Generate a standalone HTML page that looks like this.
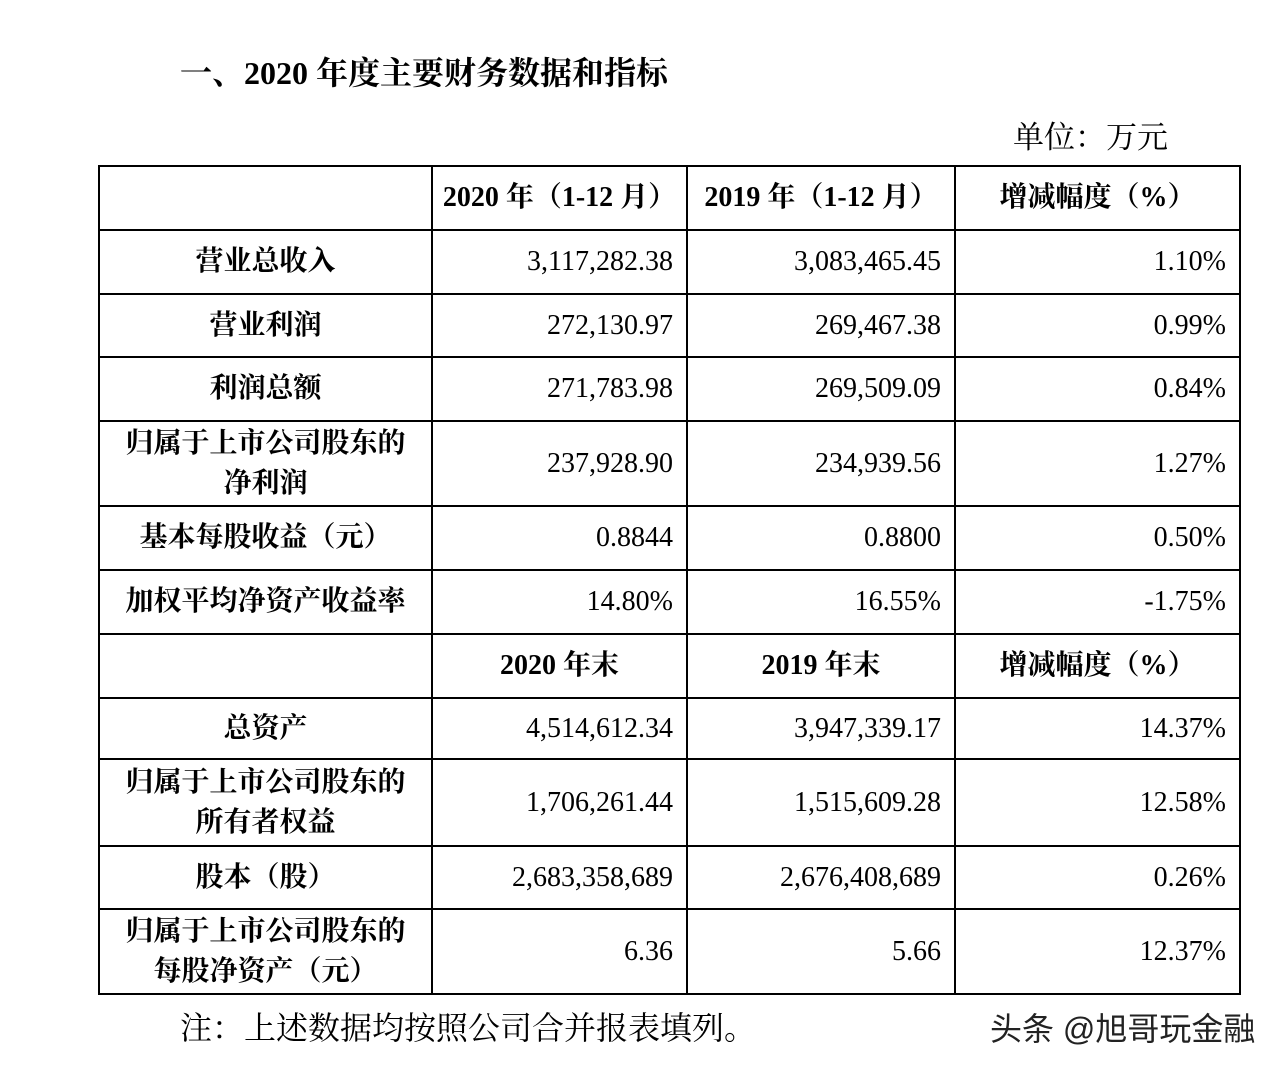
<!DOCTYPE html>
<html><head><meta charset="utf-8"><style>
html,body{margin:0;padding:0;background:#fff;}
body{width:1286px;height:1072px;position:relative;overflow:hidden;font-family:"Liberation Serif","Noto Serif CJK SC",serif;color:#000;}
.t{position:absolute;white-space:nowrap;}
table{position:absolute;left:98px;top:165px;border-collapse:collapse;table-layout:fixed;}
td{border:2px solid #000;font-size:28px;padding:0 12px;line-height:40px;}
td.l{text-align:center;font-weight:bold;padding:0 4px;}
td.r{text-align:right;padding-right:13px;}
td.h{text-align:center;font-weight:bold;padding:0 4px;}
</style></head><body>
<div class="t" style="left:180px;top:48px;font-size:32px;font-weight:bold;">一、2020 年度主要财务数据和指标</div>
<div class="t" style="left:1013px;top:112px;font-size:31px;">单位：万元</div>
<table>
<colgroup><col style="width:333px"><col style="width:255px"><col style="width:268px"><col style="width:285px"></colgroup>
<tr style="height:64px"><td></td><td class="h">2020 年（1-12 月）</td><td class="h">2019 年（1-12 月）</td><td class="h">增减幅度（%）</td></tr>
<tr style="height:64px"><td class="l">营业总收入</td><td class="r">3,117,282.38</td><td class="r">3,083,465.45</td><td class="r">1.10%</td></tr>
<tr style="height:63px"><td class="l">营业利润</td><td class="r">272,130.97</td><td class="r">269,467.38</td><td class="r">0.99%</td></tr>
<tr style="height:64px"><td class="l">利润总额</td><td class="r">271,783.98</td><td class="r">269,509.09</td><td class="r">0.84%</td></tr>
<tr style="height:85px"><td class="l">归属于上市公司股东的<br>净利润</td><td class="r">237,928.90</td><td class="r">234,939.56</td><td class="r">1.27%</td></tr>
<tr style="height:64px"><td class="l">基本每股收益（元）</td><td class="r">0.8844</td><td class="r">0.8800</td><td class="r">0.50%</td></tr>
<tr style="height:64px"><td class="l">加权平均净资产收益率</td><td class="r">14.80%</td><td class="r">16.55%</td><td class="r">-1.75%</td></tr>
<tr style="height:64px"><td></td><td class="h">2020 年末</td><td class="h">2019 年末</td><td class="h">增减幅度（%）</td></tr>
<tr style="height:61px"><td class="l">总资产</td><td class="r">4,514,612.34</td><td class="r">3,947,339.17</td><td class="r">14.37%</td></tr>
<tr style="height:87px"><td class="l">归属于上市公司股东的<br>所有者权益</td><td class="r">1,706,261.44</td><td class="r">1,515,609.28</td><td class="r">12.58%</td></tr>
<tr style="height:63px"><td class="l">股本（股）</td><td class="r">2,683,358,689</td><td class="r">2,676,408,689</td><td class="r">0.26%</td></tr>
<tr style="height:85px"><td class="l">归属于上市公司股东的<br>每股净资产（元）</td><td class="r">6.36</td><td class="r">5.66</td><td class="r">12.37%</td></tr>
</table>
<div class="t" style="left:180px;top:1003px;font-size:32px;">注：上述数据均按照公司合并报表填列。</div>
<div class="t" style="left:990px;top:1004px;font-size:32px;font-weight:normal;font-family:'Liberation Sans','Noto Sans CJK SC',sans-serif;color:#222;">头条 @旭哥玩金融</div>
</body></html>
